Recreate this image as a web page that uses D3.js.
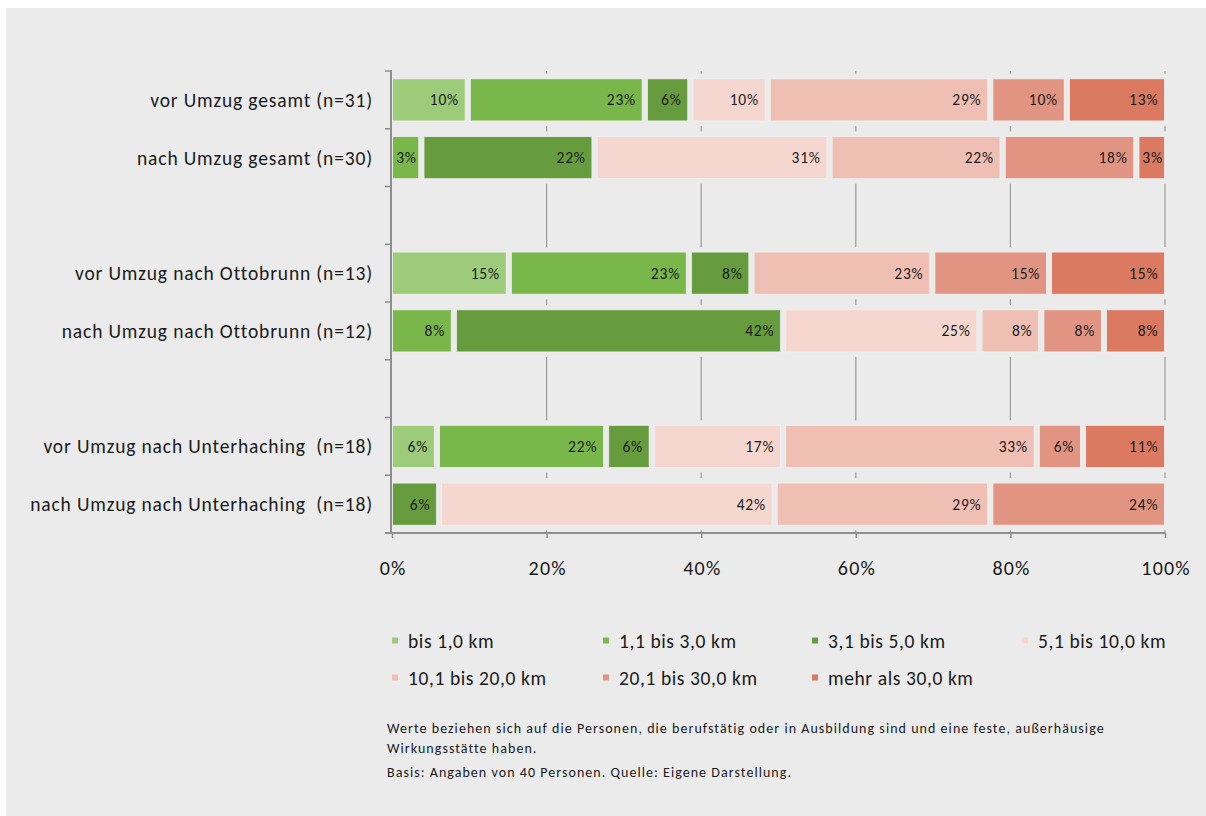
<!DOCTYPE html>
<html>
<head>
<meta charset="utf-8">
<script src="https://cdn.jsdelivr.net/npm/d3@7"></script>
<style>
  html, body { margin: 0; padding: 0; background: #ffffff; }
  svg { display: block; }
  text { font-family: Carlito, Calibri, Lato, sans-serif; fill: #1a1a1a; white-space: pre; }
</style>
</head>
<body>
<svg id="chart" width="1206" height="816"></svg>
<script>
// ---- data ----
// 8 slots: two empty spacer slots separate the three groups
const categories = [
  "vor Umzug gesamt (n=31)",
  "nach Umzug gesamt (n=30)",
  "",
  "vor Umzug nach Ottobrunn (n=13)",
  "nach Umzug nach Ottobrunn (n=12)",
  "",
  "vor Umzug nach Unterhaching  (n=18)",
  "nach Umzug nach Unterhaching  (n=18)"
];
const seriesNames = ["bis 1,0 km", "1,1 bis 3,0 km", "3,1 bis 5,0 km", "5,1 bis 10,0 km",
                     "10,1 bis 20,0 km", "20,1 bis 30,0 km", "mehr als 30,0 km"];
const seriesColors = ["#9ccb7a", "#79b74a", "#669c3d", "#f5d7cf", "#efbfb3", "#e29482", "#db7961"];

// bar widths (percent) per series, one value per slot
const bis1   = [ 9.8,  0,   0, 15.1,  0,   0,  5.8,  0  ];
const b1to3  = [22.9,  3.8, 0, 23.3,  8.0, 0, 21.9,  0  ];
const b3to5  = [ 5.9, 22.4, 0,  8.1, 42.6, 0,  5.9,  6.1];
const b5to10 = [10.0, 30.4, 0,  0,   25.4, 0, 17.0, 43.4];
const b10to20= [28.8, 22.4, 0, 23.4,  8.0, 0, 32.8, 27.9];
const b20to30= [ 9.9, 17.3, 0, 15.1,  8.1, 0,  6.0, 22.6];
const over30 = [12.7,  3.7, 0, 15.0,  7.9, 0, 10.6,  0  ];

// data labels as printed on the bars
const lblBis1   = [10, null, null, 15, null, null,  6, null];
const lblB1to3  = [23,  3,   null, 23,  8,   null, 22, null];
const lblB3to5  = [ 6, 22,   null,  8, 42,   null,  6,  6  ];
const lblB5to10 = [10, 31,   null, null, 25, null, 17, 42  ];
const lblB10to20= [29, 22,   null, 23,  8,   null, 33, 29  ];
const lblB20to30= [10, 18,   null, 15,  8,   null,  6, 24  ];
const lblOver30 = [13,  3,   null, 15,  8,   null, 11, null];

const xTicks = [0, 20, 40, 60, 80, 100];
const xTickLabels = ["0%", "20%", "40%", "60%", "80%", "100%"];

const footnotes = [
  "Werte beziehen sich auf die Personen, die berufstätig oder in Ausbildung sind und eine feste, außerhäusige",
  "Wirkungsstätte haben.",
  "Basis: Angaben von 40 Personen. Quelle: Eigene Darstellung."
];

const seriesValues = [bis1, b1to3, b3to5, b5to10, b10to20, b20to30, over30];
const seriesLabels = [lblBis1, lblB1to3, lblB3to5, lblB5to10, lblB10to20, lblB20to30, lblOver30];

// ---- drawing ----
const svg = d3.select("#chart");
const BG = "#ebebeb";

svg.append("rect").attr("x", 6).attr("y", 8).attr("width", 1200).attr("height", 808).attr("fill", BG);

const x = d3.scaleLinear().domain([0, 100]).range([392, 1165]);
const y = d3.scaleBand().domain(d3.range(categories.length)).range([71, 533])
  .paddingInner(0.27).paddingOuter(0.135);

// gridlines
svg.append("g").selectAll("line").data(xTicks.slice(1)).join("line")
  .attr("x1", d => x(d)).attr("x2", d => x(d))
  .attr("y1", 71).attr("y2", 533)
  .attr("stroke", "#9a9a9a").attr("stroke-width", 1.2);

// build stacked data
const stackRows = categories.map((c, i) => {
  const o = { idx: i };
  seriesNames.forEach((s, j) => { o[s] = seriesValues[j][i]; });
  return o;
});
const stack = d3.stack().keys(seriesNames)(stackRows);

// background underlay hiding gridlines behind each bar row
const rowsWithData = d3.range(categories.length).filter(i => categories[i] !== "");
svg.append("g").selectAll("rect").data(rowsWithData).join("rect")
  .attr("x", x(0)).attr("width", x(100) - x(0) + 1)
  .attr("y", i => y(i) - 5).attr("height", y.bandwidth() + 10)
  .attr("fill", BG);

const gap = 2.6;
const segG = svg.append("g");
stack.forEach((layer, j) => {
  const g = segG.append("g");
  layer.forEach((d, i) => {
    const v = d[1] - d[0];
    if (!v) return;
    const x0 = x(d[0]) + (d[0] > 0 ? gap : 0.5);
    const x1 = x(d[1]) - (d[1] < 99.95 ? gap : 0.5);
    g.append("rect")
      .attr("x", x0).attr("y", y(i))
      .attr("width", x1 - x0).attr("height", y.bandwidth())
      .attr("fill", seriesColors[j])
      .attr("stroke", "#f1f1f1").attr("stroke-width", 0.8);
    const lab = seriesLabels[j][i];
    if (lab !== null) {
      const t = g.append("text")
        .attr("y", y(i) + y.bandwidth() / 2)
        .attr("text-anchor", "end").attr("dominant-baseline", "central")
        .style("font-size", "15.5px").style("letter-spacing", "0.8px")
        .text(lab + "%");
      const tw = t.node().getComputedTextLength();
      const room = (x1 - x0) - tw;
      const pad = Math.max(0, Math.min(7, room / 2));
      t.attr("x", x1 - pad + 0.8);
    }
  });
});

// axes
const axisColor = "#8e8e8e";
const xAxis = d3.axisBottom(x).tickValues(xTicks).tickSize(5).tickFormat((d, i) => xTickLabels[i]);
const gx = svg.append("g").attr("transform", "translate(0,533)").call(xAxis);
gx.select(".domain").attr("d", `M385,0H${x(100) + 0.5}`).attr("stroke", axisColor).attr("stroke-width", 2);
gx.selectAll(".tick line").attr("stroke", axisColor).attr("stroke-width", 1.5);
gx.selectAll(".tick text").attr("y", 36).attr("dy", "0.32em").attr("dx", "0.6px")
  .style("font-size", "20px").style("letter-spacing", "1.2px")
  .style("font-family", "Carlito, Calibri, Lato, sans-serif").attr("fill", "#1a1a1a");

// y axis
const bounds = d3.range(categories.length + 1).map(i => 71 + i * y.step());
svg.append("line").attr("x1", 391).attr("x2", 391).attr("y1", 70).attr("y2", 534)
  .attr("stroke", axisColor).attr("stroke-width", 2);
svg.append("g").selectAll("line").data(bounds.slice(0, -1)).join("line")
  .attr("x1", 385).attr("x2", 391).attr("y1", d => d).attr("y2", d => d)
  .attr("stroke", axisColor).attr("stroke-width", 1.5);

svg.append("g").selectAll("text").data(rowsWithData).join("text")
  .attr("x", 373).attr("y", i => y(i) + y.bandwidth() / 2)
  .attr("text-anchor", "end").attr("dominant-baseline", "central")
  .style("font-size", "19.5px").style("letter-spacing", "0.85px")
  .text(i => categories[i]);

// legend
const legX = [392, 603, 812, 1022];
const legY = [640.5, 677.5];
const leg = svg.append("g");
seriesNames.forEach((s, j) => {
  const cx = legX[j % 4], cy = legY[Math.floor(j / 4)];
  leg.append("rect").attr("x", cx).attr("y", cy - 3).attr("width", 6).attr("height", 6).attr("fill", seriesColors[j]);
  leg.append("text").attr("x", cx + 16).attr("y", cy).attr("dominant-baseline", "central")
    .style("font-size", "19.5px").style("letter-spacing", "0.6px").text(s);
});

// footnotes
const fnY = [728, 748, 772];
svg.append("g").selectAll("text").data(footnotes).join("text")
  .attr("x", 387).attr("y", (d, i) => fnY[i]).attr("dominant-baseline", "central")
  .style("font-size", "14px").style("letter-spacing", "1.05px").text(d => d);
</script>
</body>
</html>
